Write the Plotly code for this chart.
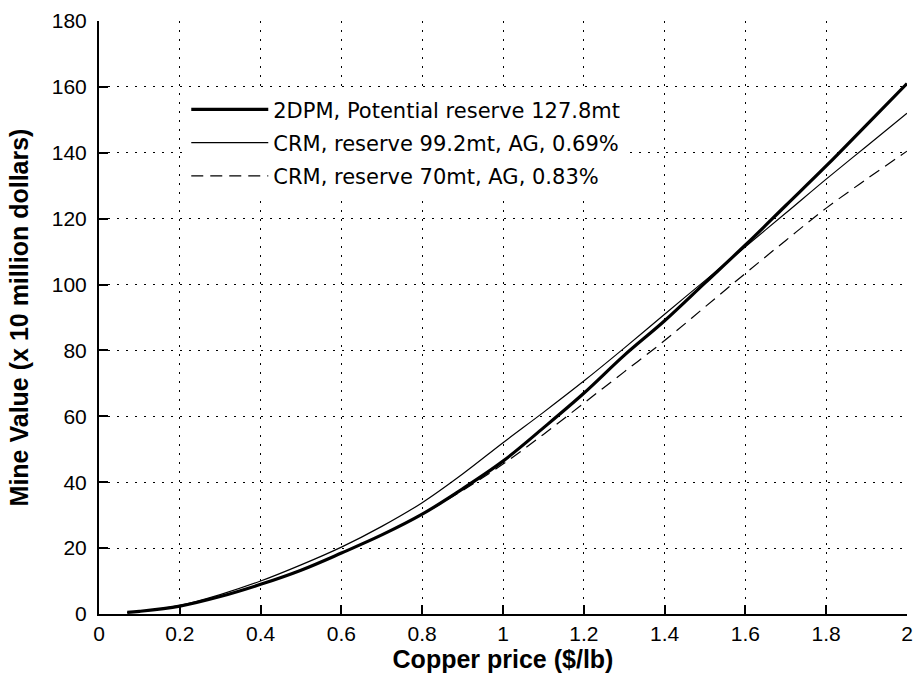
import plotly.graph_objects as go

price = [0.07, 0.1, 0.2, 0.3, 0.4, 0.5, 0.6, 0.7, 0.8, 0.9, 1.0, 1.1, 1.2, 1.3, 1.4, 1.5, 1.6, 1.7, 1.8, 1.9, 2.0]
dpm_2d = [0.5, 0.8, 2.4, 5.3, 9.0, 13.3, 18.5, 24.0, 30.3, 38.0, 46.4, 56.5, 67.0, 78.5, 89.0, 100.5, 112.0, 124.0, 136.0, 148.5, 161.0]
crm_99 = [0.5, 0.8, 2.6, 5.9, 10.0, 14.9, 20.3, 26.6, 33.8, 42.5, 52.0, 61.2, 70.7, 80.7, 91.0, 101.2, 111.5, 121.7, 132.0, 142.0, 152.0]
crm_70 = [0.4, 0.7, 2.4, 5.3, 9.0, 13.3, 18.5, 24.0, 30.3, 37.5, 45.5, 54.5, 64.0, 73.5, 83.0, 93.2, 103.4, 113.4, 123.2, 132.0, 140.5]

names = ["2DPM, Potential reserve 127.8mt",
         "CRM, reserve 99.2mt, AG, 0.69%",
         "CRM, reserve 70mt, AG, 0.83%"]
x_ticks = [0, 0.2, 0.4, 0.6, 0.8, 1, 1.2, 1.4, 1.6, 1.8, 2]
x_tick_text = ["0", "0.2", "0.4", "0.6", "0.8", "1", "1.2", "1.4", "1.6", "1.8", "2"]
y_ticks = [0, 20, 40, 60, 80, 100, 120, 140, 160, 180]

fig = go.Figure()
fig.add_trace(go.Scatter(x=price, y=dpm_2d, mode="lines", name=names[0], legendgroup="a",
                         line=dict(color="black", width=3.2, shape="spline")))
fig.add_trace(go.Scatter(x=price, y=crm_99, mode="lines", name=names[1], legendgroup="b",
                         line=dict(color="black", width=1.2, shape="spline")))
fig.add_trace(go.Scatter(x=price, y=crm_70, mode="lines", name=names[2], legendgroup="c",
                         line=dict(color="black", width=1.2, shape="spline", dash="12px,7px")))

axis_common = dict(
    showline=True, linecolor="black", linewidth=2,
    ticks="inside", ticklen=9, tickwidth=1.5, tickcolor="black",
    showgrid=True, gridcolor="black", gridwidth=1.2, griddash="2px,7px",
    zeroline=False, mirror=False,
    tickfont=dict(family="Liberation Sans, Arial", size=21, color="black"),
)

fig.update_xaxes(range=[0, 2], tickvals=x_ticks, ticktext=x_tick_text,
                 title=dict(text="<b>Copper price ($/lb)</b>", standoff=4,
                            font=dict(family="Liberation Sans, Arial", size=25, color="black")),
                 **axis_common)
fig.update_yaxes(range=[0, 180], tickvals=y_ticks, ticklabelstandoff=6,
                 title=dict(text="<b>Mine Value (x 10 million dollars)</b>", standoff=16,
                            font=dict(family="Liberation Sans, Arial", size=25, color="black")),
                 **axis_common)

fig.update_layout(
    width=922, height=682,
    margin=dict(l=99, r=9, t=17, b=68),
    plot_bgcolor="white", paper_bgcolor="white",
    showlegend=True,
    legend=dict(x=0.108, y=0.885, xanchor="left", yanchor="top", itemwidth=77,
                bgcolor="white", borderwidth=0, tracegroupgap=3,
                font=dict(family="DejaVu Sans", size=21, color="black")),
)

fig.write_html("out.html")
